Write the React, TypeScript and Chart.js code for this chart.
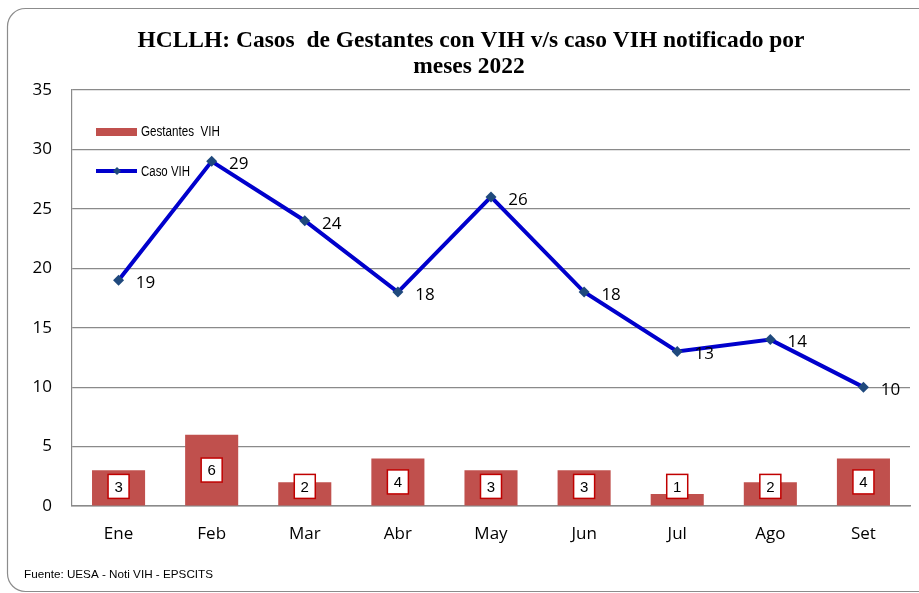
import React, { useEffect, useRef } from "react";
import { Chart, registerables } from "chart.js";
Chart.register(...registerables);

const months = ["Ene", "Feb", "Mar", "Abr", "May", "Jun", "Jul", "Ago", "Set"];
const gestantesVIH = [3, 6, 2, 4, 3, 3, 1, 2, 4];
const casoVIH = [19, 29, 24, 18, 26, 18, 13, 14, 10];
const titleLines = [
  "HCLLH: Casos  de Gestantes con VIH v/s caso VIH notificado por",
  "meses 2022",
];
const legendLabels = ["Gestantes  VIH", "Caso VIH"];
const sourceNote = "Fuente: UESA - Noti VIH - EPSCITS";

const BAR_COLOR = "#c0504d";
const LINE_COLOR = "#0000cc";
const POINT_COLOR = "#1f497d";
const GRID_COLOR = "#8a8a8a";
const NUM_FONT = '"Open Sans", "DejaVu Sans", sans-serif';

function drawFit(ctx: CanvasRenderingContext2D, text: string, x: number, y: number, width: number, font: string, align: "left" | "center") {
  ctx.save();
  ctx.font = font;
  const w = ctx.measureText(text).width;
  const s = width / w;
  ctx.translate(x, y);
  ctx.scale(s, 1);
  ctx.textAlign = align;
  ctx.textBaseline = "middle";
  ctx.fillText(text, 0, 0);
  ctx.restore();
}

const decorPlugin = {
  id: "decor",
  beforeDraw(chart: any) {
    const ctx = chart.ctx as CanvasRenderingContext2D;
    ctx.save();
    ctx.fillStyle = "#ffffff";
    ctx.fillRect(0, 0, chart.width, chart.height);
    ctx.strokeStyle = "#8c8c8c";
    ctx.lineWidth = 1.2;
    ctx.beginPath();
    (ctx as any).roundRect(7.5, 8.5, 930, 583, 18);
    ctx.stroke();
    ctx.restore();
  },
  afterDraw(chart: any) {
    const ctx = chart.ctx as CanvasRenderingContext2D;
    ctx.save();
    ctx.fillStyle = "#000000";
    // title
    const tFont = 'bold 24px "Liberation Serif", serif';
    ctx.font = tFont;
    const w1 = ctx.measureText(titleLines[0]).width;
    const s = 667 / w1;
    const w2 = ctx.measureText(titleLines[1]).width;
    drawFit(ctx, titleLines[0], 471, 41, 667, tFont, "center");
    drawFit(ctx, titleLines[1], 469, 67, w2 * s, tFont, "center");
    // footer
    drawFit(ctx, sourceNote, 24, 575, 189, '11px "Liberation Sans", Arial, sans-serif', "left");
    // legend
    ctx.fillStyle = BAR_COLOR;
    ctx.fillRect(96, 128, 41, 8);
    ctx.fillStyle = "#000";
    drawFit(ctx, legendLabels[0], 141, 132, 79, '14px "Liberation Sans", Arial, sans-serif', "left");
    ctx.strokeStyle = LINE_COLOR;
    ctx.lineWidth = 4;
    ctx.beginPath();
    ctx.moveTo(96, 171);
    ctx.lineTo(137, 171);
    ctx.stroke();
    ctx.fillStyle = POINT_COLOR;
    ctx.beginPath();
    ctx.moveTo(117, 167);
    ctx.lineTo(121, 171);
    ctx.lineTo(117, 175);
    ctx.lineTo(113, 171);
    ctx.closePath();
    ctx.fill();
    ctx.fillStyle = "#000";
    drawFit(ctx, legendLabels[1], 141, 172, 49, '14px "Liberation Sans", Arial, sans-serif', "left");

    // bar labels
    const barMeta = chart.getDatasetMeta(0);
    barMeta.data.forEach((el: any, i: number) => {
      const base = el.base;
      const cy = Math.min((el.y + base) / 2, base - 19);
      const bw = 21, bh = 24;
      ctx.fillStyle = "#ffffff";
      ctx.fillRect(el.x - bw / 2, cy - bh / 2, bw, bh);
      ctx.strokeStyle = "#c00000";
      ctx.lineWidth = 1.5;
      ctx.strokeRect(el.x - bw / 2, cy - bh / 2, bw, bh);
      ctx.fillStyle = "#000";
      ctx.font = '15px "Liberation Sans", Arial, sans-serif';
      ctx.textAlign = "center";
      ctx.textBaseline = "middle";
      ctx.fillText(String(gestantesVIH[i]), el.x, cy + 1);
    });
    // line labels
    const lineMeta = chart.getDatasetMeta(1);
    lineMeta.data.forEach((el: any, i: number) => {
      ctx.fillStyle = "#000";
      ctx.font = "17px " + NUM_FONT;
      ctx.textAlign = "center";
      ctx.textBaseline = "middle";
      ctx.fillText(String(casoVIH[i]), el.x + 27, el.y + 3);
    });
    ctx.restore();
  },
};

export default function App() {
  const ref = useRef<HTMLCanvasElement | null>(null);
  useEffect(() => {
    document.body.style.margin = "0";
    const canvas = ref.current!;
    const chart = new Chart(canvas, {
      type: "bar",
      data: {
        labels: months,
        datasets: [
          {
            type: "bar",
            label: legendLabels[0],
            data: gestantesVIH,
            backgroundColor: BAR_COLOR,
            barPercentage: 0.57,
            categoryPercentage: 1,
            order: 2,
          },
          {
            type: "line",
            label: legendLabels[1],
            data: casoVIH,
            borderColor: LINE_COLOR,
            borderWidth: 4,
            tension: 0,
            pointStyle: "rectRot",
            pointRadius: 5.5,
            pointBackgroundColor: POINT_COLOR,
            pointBorderColor: POINT_COLOR,
            pointBorderWidth: 0,
            order: 1,
          } as any,
        ],
      },
      options: {
        responsive: false,
        animation: false,
        layout: { padding: { top: 90, right: 9, left: 0, bottom: 0 } },
        plugins: {
          legend: { display: false },
          title: { display: false },
          tooltip: { enabled: false },
        },
        scales: {
          x: {
            grid: { display: false, drawTicks: false },
            border: { display: true, color: GRID_COLOR, width: 1.5 },
            ticks: { color: "#000", font: { size: 17, family: NUM_FONT }, padding: 18 },
            afterFit: (scale: any) => { scale.height = 87; },
          },
          y: {
            min: 0,
            max: 35,
            ticks: { stepSize: 5, color: "#000", font: { size: 17, family: NUM_FONT }, padding: 20 },
            grid: { color: GRID_COLOR, lineWidth: 1.2, drawTicks: false },
            border: { display: true, color: GRID_COLOR, width: 1.2 },
            afterFit: (scale: any) => { scale.width = 72; },
          },
        },
      },
      plugins: [decorPlugin],
    });
    return () => chart.destroy();
  }, []);
  return (
    <div style={{ width: 919, height: 593 }}>
      <canvas ref={ref} width={919} height={593} style={{ display: "block" }} />
    </div>
  );
}
